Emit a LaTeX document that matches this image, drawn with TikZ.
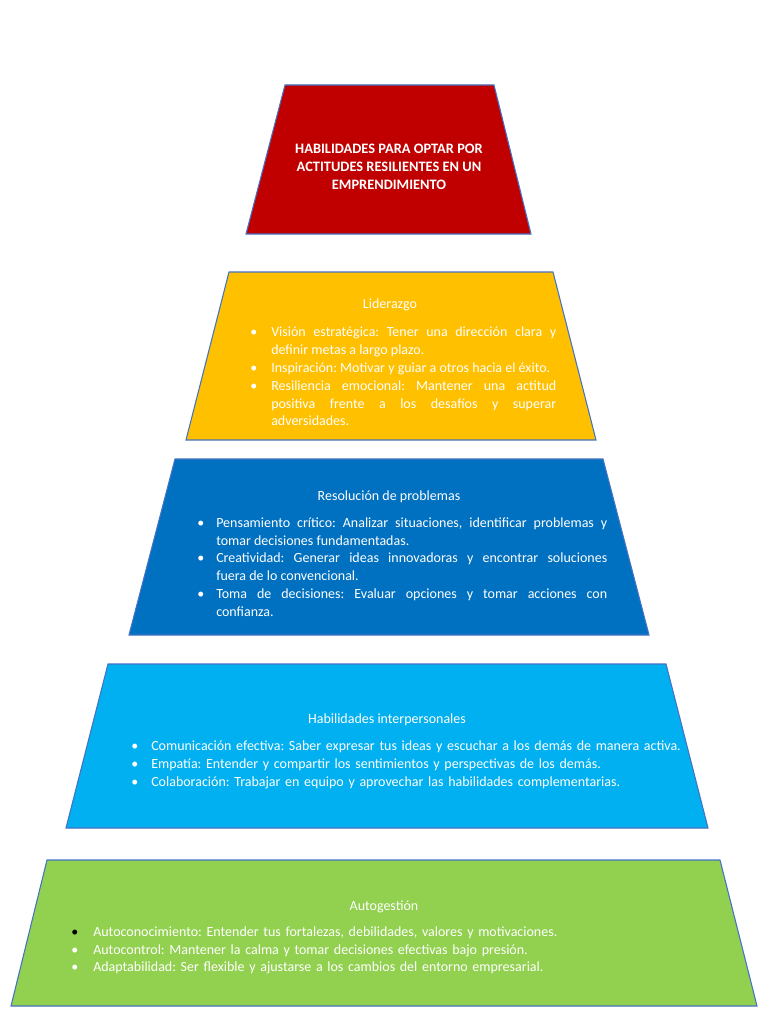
\documentclass[tikz,border=0pt]{standalone}
\usepackage{fontspec}
\setmainfont{Carlito}
\definecolor{cred}{HTML}{C00000}
\definecolor{cyel}{HTML}{FFC000}
\definecolor{cblu}{HTML}{0070C0}
\definecolor{clbl}{HTML}{00B0F0}
\definecolor{cgrn}{HTML}{92D050}
\definecolor{cedge}{HTML}{4472C4}
\newcommand{\bit}[3][white]{\par\noindent\hangindent=#2\hangafter=1\makebox[#2][l]{\textcolor{#1}{\textbullet}}#3\par}
\newcommand{\setupbody}{\frenchspacing\hyphenpenalty=10000\exhyphenpenalty=10000\tolerance=9999\emergencystretch=20pt\spaceskip=\fontdimen2\font plus 3\fontdimen3\font minus 0pt\relax}
\tikzset{
  tier/.style={draw=cedge, line width=0.8pt},
  ttl/.style={text=white, font=\fontsize{10.5pt}{13.4pt}\selectfont, inner sep=0pt, anchor=base},
  body/.style={text=white, font=\fontsize{10.5pt}{13.4pt}\selectfont\setupbody, inner sep=0pt, anchor=north west},
}
\begin{document}
\begin{tikzpicture}[x=0.75pt,y=-0.75pt]
\useasboundingbox[fill=white] (0,0) rectangle (768,1024);
% tiers
\draw[tier, fill=cred] (285,85) -- (494,85) -- (531,234) -- (246,234) -- cycle;
\draw[tier, fill=cyel] (229,272) -- (553,272) -- (596,440) -- (186,440) -- cycle;
\draw[tier, fill=cblu] (175,459) -- (603,459) -- (649,635) -- (129,635) -- cycle;
\draw[tier, fill=clbl] (108,664) -- (666,664) -- (708,828) -- (66,828) -- cycle;
\draw[tier, fill=cgrn] (47,860) -- (720,860) -- (757,1006) -- (11,1006) -- cycle;
% top title
\node[text=white, font=\bfseries\fontsize{10.8pt}{13.4pt}\selectfont, align=center, inner sep=0pt] (top) at (389,167)
  {HABILIDADES PARA OPTAR POR\\ACTITUDES RESILIENTES EN UN\\EMPRENDIMIENTO};
% Liderazgo
\node[ttl] (t1) at (390,308) {Liderazgo};
\node[body, text width=229.5pt, align=justify] (b1) at (250,318.5) {%
\bit{15.75pt}{Visión estratégica: Tener una dirección clara y definir metas a largo plazo.}
\bit{15.75pt}{Inspiración: Motivar y guiar a otros hacia el éxito.}
\bit{15.75pt}{Resiliencia emocional: Mantener una actitud positiva frente a los desafíos y superar adversidades.}};
% Resolucion
\node[ttl] (t2) at (389,500) {Resolución de problemas};
\node[body, text width=307.5pt, align=justify] (b2) at (197,509) {%
\bit{14.25pt}{Pensamiento crítico: Analizar situaciones, identificar problemas y tomar decisiones fundamentadas.}
\bit{14.25pt}{Creatividad: Generar ideas innovadoras y encontrar soluciones\linebreak fuera de lo convencional.}
\bit{14.25pt}{Toma de decisiones: Evaluar opciones y tomar acciones con confianza.}};
% Interpersonales
\node[ttl] (t3) at (387,723) {Habilidades interpersonales};
\node[body, text width=420pt, align=left] (b3) at (131,732.5) {%
\bit{15pt}{Comunicación efectiva: Saber expresar tus ideas y escuchar a los demás de manera activa.}
\bit{15pt}{Empatía: Entender y compartir los sentimientos y perspectivas de los demás.}
\bit{15pt}{Colaboración: Trabajar en equipo y aprovechar las habilidades complementarias.}};
% Autogestion
\node[ttl] (t4) at (384,910) {Autogestión};
\node[body, text width=450pt, align=left] (b4) at (71,918) {%
\bit[black]{16.5pt}{Autoconocimiento: Entender tus fortalezas, debilidades, valores y motivaciones.}
\bit{16.5pt}{Autocontrol: Mantener la calma y tomar decisiones efectivas bajo presión.}
\bit{16.5pt}{Adaptabilidad: Ser flexible y ajustarse a los cambios del entorno empresarial.}};
\end{tikzpicture}
\end{document}
